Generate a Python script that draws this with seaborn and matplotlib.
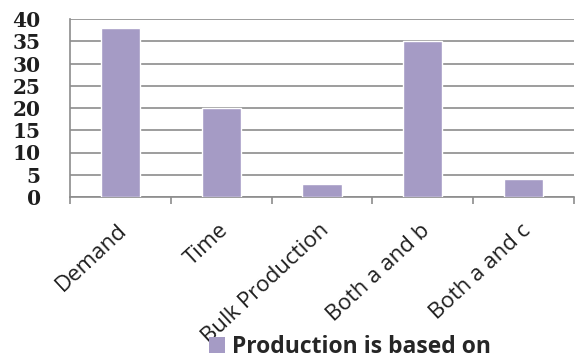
import matplotlib
matplotlib.use("Agg")
import matplotlib.pyplot as plt
import matplotlib.transforms as mtransforms
import seaborn as sns
import pandas as pd
from matplotlib.patches import Patch

# Survey answers: what production is based on
categories = ["Demand", "Time", "Bulk Production", "Both a and b", "Both a and c"]
responses = [38, 20, 3, 35, 4]
series_name = "Production is based on"
y_ticks = [0, 5, 10, 15, 20, 25, 30, 35, 40]

bar_color = "#A59BC5"
grid_color = "#8C8C8C"
text_color = "#1E1E1E"

sns.set_theme(style="white")
plt.rcParams["font.family"] = ["Open Sans", "DejaVu Sans"]

df = pd.DataFrame({"category": categories, "value": responses})

fig = plt.figure(figsize=(5.78, 3.58), dpi=100)
ax = fig.add_axes([70 / 578, 1 - 197 / 358, 504 / 578, 178 / 358])

sns.barplot(data=df, x="category", y="value", color=bar_color,
            saturation=1, width=0.39, ax=ax, zorder=3)

ax.set_ylim(0, 40)
ax.set_xlim(-0.5, len(categories) - 0.5)
ax.set_yticks(y_ticks)
ax.set_xlabel("")
ax.set_ylabel("")

# horizontal gridlines
ax.yaxis.grid(True, color=grid_color, linewidth=1.2, zorder=0)
ax.xaxis.grid(False)

for side in ["top", "right"]:
    ax.spines[side].set_visible(False)
for side in ["left", "bottom"]:
    ax.spines[side].set_color(grid_color)
    ax.spines[side].set_linewidth(1.2)

# y tick labels
ax.tick_params(axis="y", which="major", direction="out", length=8,
               width=1.2, color=grid_color, pad=13)
for lbl in ax.get_yticklabels():
    lbl.set_fontfamily("DejaVu Serif")
    lbl.set_fontweight("bold")
    lbl.set_fontsize(14.5)
    lbl.set_color(text_color)

# category boundary ticks on the x axis
ax.set_xticks([i - 0.5 for i in range(len(categories) + 1)], minor=True)
ax.tick_params(axis="x", which="minor", direction="out", length=5,
               width=1.2, color=grid_color, bottom=True)
ax.tick_params(axis="x", which="major", length=0, pad=22)
ax.set_xticks(range(len(categories)))
ax.set_xticklabels(categories, rotation=43, ha="right", va="center",
                   rotation_mode="anchor", fontsize=16, color=text_color)
shift = mtransforms.ScaledTranslation(4 / 100, 0, fig.dpi_scale_trans)
for lbl in ax.get_xticklabels():
    lbl.set_transform(lbl.get_transform() + shift)

handle = Patch(facecolor=bar_color, edgecolor="none")
fig.legend([handle], [series_name], loc="center",
           bbox_to_anchor=(350 / 578, 1 - 347 / 358), frameon=False,
           handlelength=0.72, handleheight=0.72, handletextpad=0.3,
           prop={"family": "Open Sans", "weight": "bold", "size": 16.5})

fig.savefig("out.png", dpi=100)
